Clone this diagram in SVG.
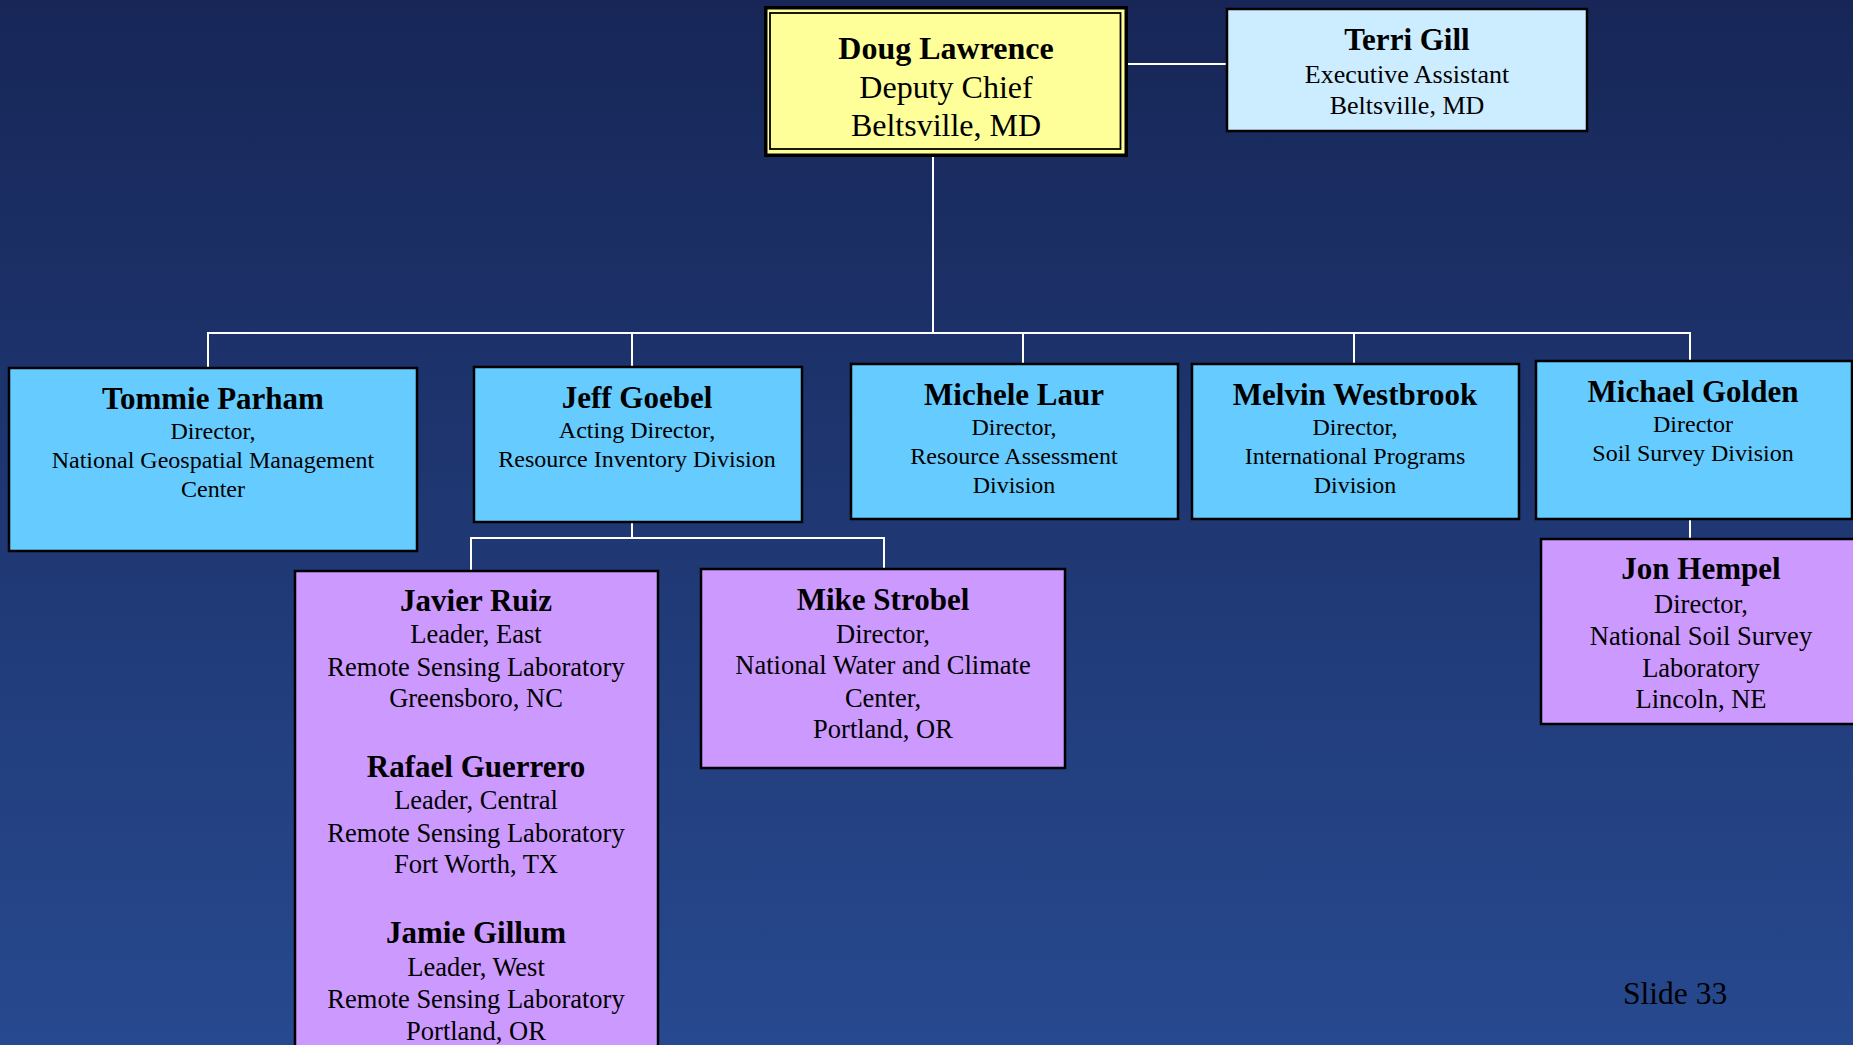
<svg xmlns="http://www.w3.org/2000/svg" width="1853" height="1045" viewBox="0 0 1853 1045">
<defs>
<linearGradient id="bg" x1="0" y1="0" x2="0" y2="1">
<stop offset="0" stop-color="#172657"/>
<stop offset="1" stop-color="#27498F"/>
</linearGradient>
</defs>
<style>
text{font-family:"Liberation Serif","Times New Roman",serif;fill:#000;text-anchor:middle}
.nm{font-weight:bold;font-size:31px}
.b24{font-size:24px}
.b26{font-size:26.5px}
.box{stroke:#000;stroke-width:2.5}
.blue{fill:#66CCFF}
.purple{fill:#CC99FF}
.light{fill:#CCECFF}
.conn line{stroke:#FFFFFF;stroke-width:2}
</style>
<rect x="0" y="0" width="1853" height="1045" fill="url(#bg)"/>

<g class="conn" id="connectors">
<line x1="1128" y1="64" x2="1227" y2="64"/>
<line x1="933" y1="157" x2="933" y2="333"/>
<line x1="207" y1="333" x2="1691" y2="333"/>
<line x1="208" y1="333" x2="208" y2="368"/>
<line x1="632" y1="333" x2="632" y2="367"/>
<line x1="1023" y1="333" x2="1023" y2="364"/>
<line x1="1354" y1="333" x2="1354" y2="364"/>
<line x1="1690" y1="333" x2="1690" y2="361"/>
<line x1="632" y1="522" x2="632" y2="538"/>
<line x1="470" y1="538" x2="885" y2="538"/>
<line x1="471" y1="538" x2="471" y2="570"/>
<line x1="884" y1="538" x2="884" y2="568"/>
<line x1="1690" y1="519" x2="1690" y2="539"/>
</g>

<g id="doug">
<rect x="764" y="6" width="364" height="151" fill="#000"/>
<rect x="767.5" y="9.5" width="357" height="144" fill="#FFFF99"/>
<rect x="770" y="13" width="350.5" height="136" fill="#FFFF99" stroke="#000" stroke-width="1.8"/>
<text x="946" y="59" style="font-weight:bold;font-size:32px">Doug Lawrence</text>
<text x="946" y="98" style="font-size:32px">Deputy Chief</text>
<text x="946" y="136" style="font-size:32px">Beltsville, MD</text>
</g>

<g id="terri">
<rect class="box light" x="1227" y="9" width="360" height="122"/>
<text x="1407" y="50" class="nm">Terri Gill</text>
<text x="1407" y="83" class="b26" style="font-size:26px">Executive Assistant</text>
<text x="1407" y="114" class="b26" style="font-size:26px">Beltsville, MD</text>
</g>

<g id="tommie">
<rect class="box blue" x="9" y="368" width="408" height="183"/>
<text x="213" y="409" class="nm">Tommie Parham</text>
<text x="213" y="439" class="b24">Director,</text>
<text x="213" y="468" class="b24">National Geospatial Management</text>
<text x="213" y="497" class="b24">Center</text>
</g>

<g id="jeff">
<rect class="box blue" x="474" y="367" width="328" height="155"/>
<text x="637" y="408" class="nm">Jeff Goebel</text>
<text x="637" y="438" class="b24">Acting Director,</text>
<text x="637" y="467" class="b24">Resource Inventory Division</text>
</g>

<g id="michele">
<rect class="box blue" x="851" y="364" width="327" height="155"/>
<text x="1014" y="405" class="nm">Michele Laur</text>
<text x="1014" y="435" class="b24">Director,</text>
<text x="1014" y="464" class="b24">Resource Assessment</text>
<text x="1014" y="493" class="b24">Division</text>
</g>

<g id="melvin">
<rect class="box blue" x="1192" y="364" width="327" height="155"/>
<text x="1355" y="405" class="nm">Melvin Westbrook</text>
<text x="1355" y="435" class="b24">Director,</text>
<text x="1355" y="464" class="b24">International Programs</text>
<text x="1355" y="493" class="b24">Division</text>
</g>

<g id="michael">
<rect class="box blue" x="1536" y="361" width="316" height="158"/>
<text x="1693" y="402" class="nm">Michael Golden</text>
<text x="1693" y="432" class="b24">Director</text>
<text x="1693" y="461" class="b24">Soil Survey Division</text>
</g>

<g id="jon">
<rect class="box purple" x="1541" y="539" width="320" height="185"/>
<text x="1701" y="579" class="nm">Jon Hempel</text>
<text x="1701" y="613" class="b26">Director,</text>
<text x="1701" y="645" class="b26">National Soil Survey</text>
<text x="1701" y="677" class="b26">Laboratory</text>
<text x="1701" y="708" class="b26">Lincoln, NE</text>
</g>

<g id="javier">
<rect class="box purple" x="295" y="571" width="363" height="490"/>
<text x="476" y="611" class="nm">Javier Ruiz</text>
<text x="476" y="643" class="b26">Leader, East</text>
<text x="476" y="676" class="b26">Remote Sensing Laboratory</text>
<text x="476" y="707" class="b26">Greensboro, NC</text>
<text x="476" y="777" class="nm">Rafael Guerrero</text>
<text x="476" y="809" class="b26">Leader, Central</text>
<text x="476" y="842" class="b26">Remote Sensing Laboratory</text>
<text x="476" y="873" class="b26">Fort Worth, TX</text>
<text x="476" y="943" class="nm">Jamie Gillum</text>
<text x="476" y="976" class="b26">Leader, West</text>
<text x="476" y="1008" class="b26">Remote Sensing Laboratory</text>
<text x="476" y="1040" class="b26">Portland, OR</text>
</g>

<g id="mike">
<rect class="box purple" x="701" y="569" width="364" height="199"/>
<text x="883" y="610" class="nm">Mike Strobel</text>
<text x="883" y="643" class="b26">Director,</text>
<text x="883" y="674" class="b26">National Water and Climate</text>
<text x="883" y="707" class="b26">Center,</text>
<text x="883" y="738" class="b26">Portland, OR</text>
</g>

<text x="1623" y="1004" style="font-size:31.5px;text-anchor:start">Slide 33</text>
</svg>
